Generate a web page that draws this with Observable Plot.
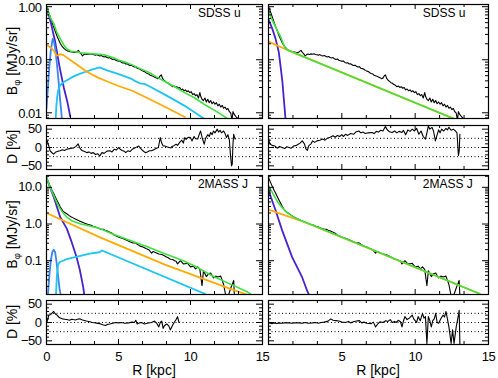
<!DOCTYPE html>
<html><head><meta charset="utf-8">
<script src="https://cdn.jsdelivr.net/npm/d3@7"></script>
<script src="https://cdn.jsdelivr.net/npm/@observablehq/plot@0.6"></script>
<style>
body{margin:0;background:#fff;}
#chart{position:relative;width:498px;height:378px;overflow:hidden;background:#fff;}
#chart svg{position:absolute;left:0;top:0;}
</style></head><body><div id="chart"></div>
<script>
// ---------------- data ----------------
const bandLabels = ["SDSS u", "2MASS J"];
const xMajor = [0, 5, 10, 15];
const xMinor = [1.667, 3.333, 6.667, 8.333, 11.667, 13.333];
const xLabelsLeft = [0, 5, 10, 15];
const xLabelsRight = [5, 10, 15];
const yMajorTop = [0.01, 0.1, 1];
const yMinorTop = [0.008, 0.009, 0.02, 0.03, 0.04, 0.05, 0.06, 0.07, 0.08, 0.09, 0.2, 0.3, 0.4, 0.5, 0.6, 0.7, 0.8, 0.9];
const yMajorBot = [0.1, 1, 10];
const yMinorBot = [0.02, 0.03, 0.04, 0.05, 0.06, 0.07, 0.08, 0.09, 0.2, 0.3, 0.4, 0.5, 0.6, 0.7, 0.8, 0.9, 2, 3, 4, 5, 6, 7, 8, 9, 20];
const resMajor = [-50, 0, 50];
const resMinor = [-40, -30, -20, -10, 10, 20, 30, 40];
const resDotted = [-25, 0, 25];

// observed profiles [R kpc, B]
const sdssU = [[0.00,1.00],[0.05,0.93],[0.10,0.85],[0.18,0.74],[0.27,0.63],[0.36,0.53],[0.45,0.45],[0.55,0.38],[0.65,0.32],[0.75,0.27],[0.85,0.235],[0.95,0.205],[1.05,0.185],[1.15,0.17],[1.25,0.16],[1.35,0.152],[1.45,0.147],[1.55,0.145],[1.65,0.142],[1.75,0.140],[1.85,0.138],[1.95,0.137],[2.05,0.138],[2.15,0.145],[2.22,0.15],[2.30,0.138],[2.40,0.130],[2.50,0.118],[2.60,0.125],[2.70,0.128],[2.80,0.126],[2.90,0.129],[3.00,0.127],[3.10,0.130],[3.20,0.126],[3.30,0.124],[3.40,0.122],[3.50,0.125],[3.60,0.120],[3.70,0.118],[3.80,0.120],[3.90,0.116],[4.00,0.113],[4.10,0.115],[4.20,0.110],[4.30,0.108],[4.40,0.110],[4.50,0.104],[4.60,0.101],[4.70,0.103],[4.80,0.098],[4.90,0.096],[5.00,0.094],[5.10,0.095],[5.20,0.089],[5.30,0.087],[5.40,0.088],[5.50,0.083],[5.60,0.084],[5.70,0.080],[5.80,0.078],[5.90,0.079],[6.00,0.075],[6.10,0.073],[6.20,0.074],[6.30,0.069],[6.40,0.068],[6.50,0.066],[6.60,0.063],[6.70,0.061],[6.80,0.060],[6.90,0.057],[7.00,0.055],[7.10,0.054],[7.20,0.051],[7.30,0.050],[7.40,0.049],[7.50,0.047],[7.60,0.046],[7.70,0.044],[7.80,0.045],[7.90,0.050],[7.97,0.052],[8.05,0.045],[8.15,0.041],[8.25,0.039],[8.35,0.037],[8.45,0.036],[8.55,0.034],[8.65,0.033],[8.75,0.031],[8.85,0.032],[8.95,0.030],[9.05,0.031],[9.15,0.029],[9.25,0.030],[9.35,0.027],[9.45,0.028],[9.55,0.026],[9.65,0.027],[9.75,0.025],[9.85,0.026],[9.95,0.024],[10.05,0.025],[10.15,0.022],[10.25,0.023],[10.35,0.021],[10.45,0.022],[10.55,0.019],[10.65,0.024],[10.72,0.020],[10.80,0.018],[10.90,0.017],[11.00,0.019],[11.10,0.016],[11.20,0.018],[11.30,0.0155],[11.40,0.017],[11.50,0.0148],[11.60,0.016],[11.70,0.0145],[11.80,0.0155],[11.90,0.0135],[12.00,0.0145],[12.10,0.0128],[12.20,0.0138],[12.30,0.0122],[12.40,0.0128],[12.50,0.0115],[12.60,0.0120],[12.70,0.0105],[12.80,0.0098],[12.88,0.0072],[12.95,0.0105],[13.05,0.0092],[13.15,0.0085],[13.25,0.0080],[13.30,0.0076]];
const twoMassJ = [[0,19],[0.08,15.5],[0.16,13],[0.27,10.3],[0.38,8.3],[0.5,6.8],[0.62,5.4],[0.73,4.4],[0.84,3.6],[0.95,2.95],[1.05,2.55],[1.15,2.25],[1.27,2.05],[1.41,1.9],[1.55,1.72],[1.7,1.58],[1.85,1.47],[2.0,1.37],[2.15,1.28],[2.3,1.2],[2.5,1.12],[2.7,1.04],[2.9,0.97],[3.1,0.92],[3.25,0.86],[3.4,0.83],[3.6,0.77],[3.8,0.72],[3.95,0.72],[4.1,0.66],[4.25,0.64],[4.4,0.6],[4.55,0.56],[4.7,0.5],[4.85,0.47],[5.0,0.44],[5.25,0.41],[5.5,0.37],[5.75,0.335],[6.0,0.305],[6.15,0.31],[6.3,0.28],[6.5,0.25],[6.7,0.235],[6.9,0.215],[7.1,0.2],[7.3,0.16],[7.4,0.178],[7.6,0.165],[7.8,0.152],[8.0,0.147],[8.15,0.138],[8.3,0.128],[8.45,0.12],[8.6,0.11],[8.75,0.108],[8.9,0.1],[9.0,0.097],[9.1,0.082],[9.3,0.1],[9.5,0.082],[9.65,0.083],[9.8,0.085],[10.0,0.068],[10.2,0.071],[10.35,0.06],[10.5,0.068],[10.65,0.058],[10.8,0.021],[10.9,0.053],[11.1,0.037],[11.25,0.044],[11.4,0.046],[11.6,0.034],[11.75,0.038],[11.9,0.036],[12.1,0.038],[12.3,0.0225],[12.45,0.011],[12.6,0.0105],[12.8,0.018],[13.0,0.029],[13.05,0.0105]];

// model components, top-left (SDSS u, left fit)
const uLeftCentral = [[0,1.0],[0.3,0.5],[0.6,0.22],[0.9,0.075],[1.2,0.03],[1.45,0.016],[1.65,0.0085]];
const uLeftRing = [[0,0.012],[0.1,0.03],[0.2,0.075],[0.3,0.15],[0.43,0.25],[0.52,0.22],[0.61,0.16],[0.72,0.085],[0.84,0.039],[0.95,0.017],[1.07,0.0078]];
const uLeftTrunc = [[0.64,0.0077],[0.68,0.013],[0.74,0.02],[0.82,0.027],[0.95,0.033],[1.2,0.038],[1.86,0.048],[2.3,0.054],[2.77,0.06],[3.2,0.066],[3.68,0.072],[4.2,0.063],[4.8,0.056],[5.4,0.049],[5.95,0.043],[6.2,0.039],[6.5,0.036],[6.8,0.035],[7.1,0.032],[8.22,0.022],[9.6,0.0135],[10.95,0.0077]];
const uLeftDisk = [[0,0.19],[0.3,0.17],[0.57,0.14],[0.68,0.12],[0.8,0.121],[0.95,0.127],[1.18,0.122],[1.5,0.105],[2.0,0.085],[2.77,0.06],[3.5,0.047],[4.3,0.038],[5.0,0.032],[5.95,0.026],[7.0,0.019],[8.22,0.013],[9.6,0.0083]];
const uLeftTotal = [[0,1.0],[0.1,0.85],[0.27,0.62],[0.5,0.48],[0.7,0.34],[0.95,0.25],[1.2,0.19],[1.41,0.16],[1.7,0.145],[2.09,0.14],[2.6,0.133],[3.2,0.13],[3.7,0.127],[4.1,0.122],[4.6,0.11],[5.0,0.099],[5.5,0.09],[5.95,0.08],[6.5,0.068],[7.09,0.058],[7.6,0.048],[8.22,0.039],[8.9,0.031],[9.59,0.024],[10.3,0.019],[10.95,0.0145],[11.7,0.011],[12.5,0.008]];
// top-right (SDSS u, right fit)
const uRightCentral = [[0,0.58],[0.25,0.39],[0.48,0.25],[0.7,0.14],[0.84,0.069],[0.95,0.038],[1.04,0.019],[1.16,0.0077]];
const uRightDisk = [[0,0.22],[1.4,0.148],[12.7,0.0076]];
const uRightTotal = [[0,0.83],[0.2,0.6],[0.44,0.44],[0.6,0.35],[0.78,0.29],[0.95,0.22],[1.12,0.17],[1.3,0.152],[1.4,0.148],[12.7,0.0076]];
// bottom-left (2MASS J, left fit)
const jLeftCentral = [[0,18],[0.5,5.5],[0.95,1.55],[1.41,0.75],[1.75,0.32],[2.09,0.125],[2.32,0.055],[2.55,0.019],[2.62,0.012]];
const jLeftRing = [[0.1,0.012],[0.2,0.04],[0.3,0.1],[0.4,0.17],[0.5,0.2],[0.6,0.17],[0.7,0.09],[0.8,0.04],[0.9,0.018],[0.98,0.012]];
const jLeftTrunc = [[0.66,0.012],[0.72,0.04],[0.8,0.075],[0.9,0.091],[1.41,0.11],[2.5,0.14],[3.0,0.155],[3.68,0.17],[3.85,0.19],[11.0,0.0125]];
const jLeftDisk = [[0,2.0],[3.68,0.44],[8.22,0.078],[12.77,0.017],[13.9,0.012]];
const jLeftTotal = [[0,19],[0.25,10],[0.5,6],[0.75,3.6],[0.95,2.6],[1.2,1.9],[1.41,1.55],[1.8,1.2],[2.32,1.02],[3.0,0.88],[3.68,0.76],[4.5,0.55],[5.95,0.34],[7.0,0.24],[8.22,0.155],[9.5,0.1],[10.5,0.065],[11.6,0.037],[12.77,0.023],[13.9,0.0145],[14.2,0.012]];
// bottom-right (2MASS J, right fit)
const jRightCentral = [[0,8.3],[0.48,2.37],[0.93,0.67],[1.61,0.125],[2.3,0.035],[2.64,0.015],[2.75,0.012]];
const jRightDisk = [[0,2.47],[2.52,1.1],[14.4,0.0126]];
const jRightTotal = [[0,11],[0.25,7.4],[0.48,5.0],[0.7,3.6],[0.93,2.8],[1.16,2.25],[1.5,1.75],[1.84,1.45],[2.2,1.24],[2.52,1.12],[14.4,0.0126]];

// residuals D [%]
const resUL = [[0,15],[0.05,18],[0.15,5],[0.25,-9],[0.4,-15],[0.5,-18],[0.65,-12],[0.8,-10],[0.95,-9],[1.1,-6],[1.25,-8],[1.4,-5],[1.6,-3],[1.75,-2],[1.9,-1],[2.05,3],[2.2,10],[2.3,0],[2.4,-6],[2.5,-9],[2.65,-11],[2.8,-14],[2.95,-12],[3.1,-16],[3.25,-14],[3.4,-19],[3.55,-17],[3.7,-23],[3.85,-14],[4.0,-16],[4.2,-10],[4.4,-9],[4.55,-12],[4.7,-5],[4.85,-7],[5.0,0],[5.1,-4],[5.25,-8],[5.4,-10],[5.5,-14],[5.65,-9],[5.8,-11],[5.95,-5],[6.1,-2],[6.25,1],[6.4,4],[6.55,-3],[6.7,-9],[6.86,-14],[7.0,-12],[7.15,-9],[7.3,-9],[7.45,-6],[7.6,-3],[7.77,0],[7.9,27],[8.0,12],[8.1,4],[8.22,4],[8.35,2],[8.5,0],[8.65,-1],[8.7,3],[8.85,5],[9.0,9],[9.1,6],[9.25,14],[9.4,20],[9.5,12],[9.6,27],[9.7,22],[9.85,28],[10.0,27],[10.1,18],[10.25,30],[10.35,24],[10.5,23],[10.6,35],[10.7,45],[10.8,28],[10.95,9],[11.05,25],[11.2,35],[11.3,30],[11.4,41],[11.5,35],[11.6,45],[11.7,40],[11.86,50],[11.95,42],[12.05,47],[12.15,40],[12.3,45],[12.4,38],[12.5,27],[12.6,35],[12.7,20],[12.77,-18],[12.85,-50],[12.9,-45],[12.95,10],[13.0,36],[13.05,28],[13.1,23]];
const resUR = [[0,27],[0.05,15],[0.15,8],[0.3,5],[0.45,4],[0.6,-2],[0.75,3],[0.93,0],[1.1,-3],[1.25,2],[1.4,0],[1.55,-2],[1.7,4],[1.85,5],[2.0,8],[2.15,12],[2.3,18],[2.45,10],[2.55,-4],[2.65,-8],[2.75,5],[2.9,10],[3.0,18],[3.15,14],[3.3,18],[3.5,20],[3.7,23],[3.85,20],[4.0,25],[4.2,28],[4.4,32],[4.55,28],[4.7,33],[4.85,30],[5.0,35],[5.1,30],[5.25,36],[5.4,33],[5.6,38],[5.8,36],[5.95,42],[6.16,45],[6.3,40],[6.45,42],[6.6,38],[6.8,40],[7.07,41],[7.2,38],[7.35,44],[7.5,42],[7.65,47],[7.8,45],[7.97,57],[8.1,48],[8.25,43],[8.43,41],[8.6,45],[8.75,40],[8.9,44],[9.1,41],[9.2,47],[9.35,35],[9.5,48],[9.65,44],[9.8,50],[9.95,45],[10.1,52],[10.25,36],[10.4,45],[10.55,30],[10.7,23],[10.8,40],[10.9,59],[11.0,50],[11.15,55],[11.25,45],[11.38,18],[11.5,35],[11.6,48],[11.7,40],[11.8,50],[11.95,45],[12.1,52],[12.2,48],[12.3,55],[12.45,47],[12.6,50],[12.75,45],[12.85,40],[12.95,-22],[13.0,-10],[13.05,36]];
const resJL = [[0,-2],[0.08,8],[0.16,20],[0.3,22],[0.45,28],[0.5,30],[0.6,24],[0.73,20],[0.85,15],[0.95,12],[1.1,10],[1.25,9],[1.41,8],[1.6,6],[1.75,9],[1.86,8],[2.0,7],[2.15,9],[2.3,10],[2.5,7],[2.77,4],[3.0,2],[3.2,0],[3.4,-1],[3.68,-3],[3.9,-6],[4.1,-8],[4.25,-5],[4.4,-4],[4.6,-2],[4.8,0],[5.0,-1],[5.2,0],[5.45,-2],[5.7,-1],[5.95,1],[6.1,0],[6.2,6],[6.3,-4],[6.45,-1],[6.6,0],[6.8,-4],[7.0,-2],[7.3,0],[7.5,4],[7.65,-2],[7.8,-12],[7.9,0],[8.0,4],[8.1,-16],[8.2,-8],[8.35,-4],[8.5,-10],[8.6,-20],[8.7,-12],[8.8,-4],[8.9,2],[9.0,8],[9.1,16],[9.2,0]];
const resJR = [[0,0],[0.1,-2],[0.25,-3],[0.4,-1],[0.55,-3],[0.7,-1],[0.9,-2],[1.1,-1],[1.4,-1],[1.6,-2],[1.8,-1],[2.07,-1],[2.3,-2],[2.5,0],[2.7,-2],[3.0,-1],[3.2,0],[3.4,-2],[3.6,0],[3.8,1],[4.0,3],[4.1,5],[4.25,10],[4.4,6],[4.6,5],[4.8,4],[5.0,1],[5.25,0],[5.45,3],[5.6,-1],[5.8,2],[6.0,4],[6.2,5],[6.35,-1],[6.5,1],[6.7,-2],[7.0,-3],[7.15,1],[7.3,-12],[7.45,-4],[7.6,2],[7.8,0],[8.0,5],[8.15,3],[8.3,8],[8.45,0],[8.6,3],[8.7,0],[8.85,6],[9.0,2],[9.1,-12],[9.2,4],[9.3,16],[9.45,8],[9.6,12],[9.8,20],[9.9,10],[10.0,5],[10.1,0],[10.2,16],[10.35,5],[10.5,25],[10.6,12],[10.7,16],[10.8,-57],[10.9,16],[11.0,5],[11.1,-12],[11.2,5],[11.3,10],[11.4,25],[11.5,0],[11.6,-2],[11.75,10],[11.9,20],[12.0,15],[12.1,30],[12.2,10],[12.3,-12],[12.45,-57],[12.55,-20],[12.65,-57],[12.8,-12],[12.95,20],[13.0,33],[13.05,-60]];

// ---------------- styling / layout ----------------
const C = {green:"#3de23d", orange:"#ffab00", cyan:"#1ec4f2", blue:"#3a86ee", purple:"#4a22cc", black:"#000"};
const FONT = "'Liberation Sans', Arial, Helvetica, sans-serif";
const W = 498, H = 378;
const colsPx = [{l:46, r:262}, {l:268, r:488}];
const mainRows = [{t:4, b:118, domain:[0.0078, 1.1], maj:yMajorTop, min:yMinorTop, fmt:d3.format(".2f"), labelDy:1},
                  {t:175, b:294, domain:[0.012, 21], maj:yMajorBot, min:yMinorBot, fmt:d3.format(".1f"), labelDy:0}];
const resRows = [{t:125, b:169}, {t:300, b:344}];
const chart = document.getElementById("chart");

function line(data, color, w) {
  return Plot.line(data, {x: d => d[0], y: d => d[1], stroke: color, strokeWidth: w, clip: true});
}

function panel({col, top, bottom, type, domain, maj, min, fmt, showY, labelDy = 0, xLabels, lines, dotted}) {
  const fw = col.r - col.l, fh = bottom - top;
  const marks = [];
  if (dotted) marks.push(Plot.ruleY(dotted, {stroke: "#000", strokeWidth: 1, strokeDasharray: "1,2.5"}));
  marks.push(...lines);
  marks.push(Plot.frame({stroke: "#000", strokeWidth: 1.2}));
  marks.push(Plot.ruleX(xMajor, {insetTop: fh - 5, stroke: "#000"}));
  marks.push(Plot.ruleX(xMajor, {insetBottom: fh - 5, stroke: "#000"}));
  marks.push(Plot.ruleX(xMinor, {insetTop: fh - 3, stroke: "#000"}));
  marks.push(Plot.ruleX(xMinor, {insetBottom: fh - 3, stroke: "#000"}));
  marks.push(Plot.ruleY(maj, {insetRight: fw - 6, stroke: "#000"}));
  marks.push(Plot.ruleY(maj, {insetLeft: fw - 6, stroke: "#000"}));
  marks.push(Plot.ruleY(min, {insetRight: fw - 3, stroke: "#000"}));
  marks.push(Plot.ruleY(min, {insetLeft: fw - 3, stroke: "#000"}));
  if (showY) marks.push(Plot.axisY(maj, {anchor: "left", tickSize: 0, tickPadding: 5, tickFormat: fmt, fontSize: 13, fill: "#000", dy: labelDy}));
  if (xLabels) marks.push(Plot.axisX(xLabels, {anchor: "bottom", tickSize: 0, tickPadding: 7, fontSize: 13, fill: "#000", tickFormat: d => String(d)}));
  const svg = Plot.plot({
    width: W, height: H,
    marginLeft: col.l, marginRight: W - col.r, marginTop: top, marginBottom: H - bottom,
    x: {domain: [0, 15], axis: null},
    y: {type, domain, axis: null},
    style: {background: "transparent", overflow: "visible", fontFamily: FONT, fontSize: "13px", letterSpacing: "-0.5px", color: "#000"},
    marks
  });
  chart.appendChild(svg);
  return svg;
}

const resFmt = d => d < 0 ? "\u2212" + (-d) : String(d);

const comps = [
  [[line(sdssU, C.black, 1.1), line(uLeftCentral, C.purple, 1.8), line(uLeftRing, C.blue, 1.8), line(uLeftTrunc, C.cyan, 1.8), line(uLeftDisk, C.orange, 1.8), line(uLeftTotal, C.green, 1.6)],
   [line(sdssU, C.black, 1.1), line(uRightCentral, C.purple, 1.8), line(uRightDisk, C.orange, 1.8), line(uRightTotal, C.green, 1.6)]],
  [[line(twoMassJ, C.black, 1.1), line(jLeftCentral, C.purple, 1.8), line(jLeftRing, C.blue, 1.8), line(jLeftTrunc, C.cyan, 1.8), line(jLeftDisk, C.orange, 1.8), line(jLeftTotal, C.green, 1.6)],
   [line(twoMassJ, C.black, 1.1), line(jRightCentral, C.purple, 1.8), line(jRightDisk, C.orange, 1.8), line(jRightTotal, C.green, 1.6)]]
];
const resid = [[resUL, resUR], [resJL, resJR]];

for (let r = 0; r < 2; r++) {
  const m = mainRows[r], rr = resRows[r];
  for (let c = 0; c < 2; c++) {
    const col = colsPx[c];
    panel({col, top: m.t, bottom: m.b, type: "log", domain: m.domain, maj: m.maj, min: m.min, fmt: m.fmt, showY: c === 0, labelDy: m.labelDy, xLabels: null, lines: comps[r][c]});
    panel({col, top: rr.t, bottom: rr.b, type: "linear", domain: [-60, 60], maj: resMajor, min: resMinor, fmt: resFmt, showY: c === 0,
           xLabels: r === 1 ? (c === 0 ? xLabelsLeft : xLabelsRight) : null,
           lines: [line(resid[r][c], C.black, 1.1)], dotted: resDotted});
  }
}

// text overlay (titles)
const ov = d3.create("svg").attr("width", W).attr("height", H)
  .style("font-family", FONT).style("overflow", "visible");
function rotLabel(x, y, parts) {
  const t = ov.append("text").attr("transform", `translate(${x},${y}) rotate(-90)`)
    .attr("text-anchor", "middle").attr("font-size", 14).attr("fill", "#000");
  for (const p of parts) {
    const s = t.append("tspan").text(p.t);
    if (p.sub) s.attr("dy", 3).attr("font-size", 9.5);
    if (p.back) s.attr("dy", -3);
  }
}
for (let r = 0; r < 2; r++) {
  const m = mainRows[r], rr = resRows[r];
  rotLabel(17, (m.t + m.b) / 2, [{t: "B"}, {t: "\u03c6", sub: true}, {t: " [MJy/sr]", back: true}]);
  rotLabel(17, (rr.t + rr.b) / 2, [{t: "D [%]"}]);
  for (let c = 0; c < 2; c++) {
    const col = colsPx[c];
    const x = col.l + (col.r - col.l) * 10.55 / 15;
    ov.append("text").attr("x", x).attr("y", m.t + 13).attr("font-size", 12).attr("fill", "#000").text(bandLabels[r]);
  }
}
for (let c = 0; c < 2; c++) {
  const col = colsPx[c];
  ov.append("text").attr("x", (col.l + col.r) / 2).attr("y", 375).attr("text-anchor", "middle")
    .attr("font-size", 14).attr("fill", "#000").text("R [kpc]");
}
chart.appendChild(ov.node());
</script></body></html>
